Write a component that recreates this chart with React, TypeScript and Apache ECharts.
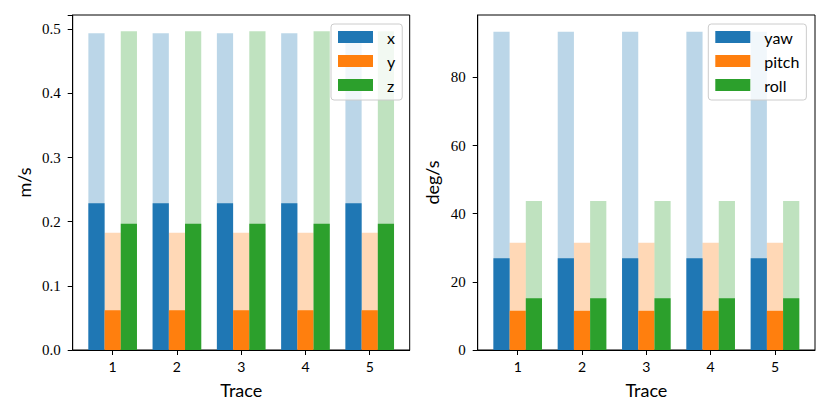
import { useEffect, useRef } from "react";
import * as echarts from "echarts";

// categories
const traces = [1, 2, 3, 4, 5];

// left panel (m/s): light = peak, dark = mean
const xPeak = [0.494, 0.494, 0.494, 0.494, 0.494];
const xMean = [0.229, 0.229, 0.229, 0.229, 0.229];
const yPeak = [0.183, 0.183, 0.183, 0.183, 0.183];
const yMean = [0.062, 0.062, 0.062, 0.062, 0.062];
const zPeak = [0.497, 0.497, 0.497, 0.497, 0.497];
const zMean = [0.197, 0.197, 0.197, 0.197, 0.197];

// right panel (deg/s)
const yawPeak = [93.4, 93.4, 93.4, 93.4, 93.4];
const yawMean = [26.9, 26.9, 26.9, 26.9, 26.9];
const pitchPeak = [31.5, 31.5, 31.5, 31.5, 31.5];
const pitchMean = [11.5, 11.5, 11.5, 11.5, 11.5];
const rollPeak = [43.7, 43.7, 43.7, 43.7, 43.7];
const rollMean = [15.2, 15.2, 15.2, 15.2, 15.2];

// tick labels
const linTicks = [0, 0.1, 0.2, 0.3, 0.4, 0.5];
const angTicks = [0, 20, 40, 60, 80];
const traceTicks = [1, 2, 3, 4, 5];

const linNames = ["x", "y", "z"];
const angNames = ["yaw", "pitch", "roll"];
const colors = ["#1f77b4", "#ff7f0e", "#2ca02c"];

const SERIF = "Liberation Serif";
const SANS = "Lato";

export default function App() {
  const ref = useRef<HTMLDivElement>(null);
  useEffect(() => {
    document.body.style.margin = "0";
    const chart = echarts.init(ref.current!, null, { renderer: "svg" });

    const lin = [
      [xPeak, xMean],
      [yPeak, yMean],
      [zPeak, zMean],
    ];
    const ang = [
      [yawPeak, yawMean],
      [pitchPeak, pitchMean],
      [rollPeak, rollMean],
    ];

    const series: any[] = [];
    const addPanel = (g: number, names: string[], sets: number[][][]) => {
      sets.forEach(([peak], k) => {
        series.push({
          type: "bar",
          name: names[k] + " peak",
          xAxisIndex: 2 * g + 1,
          yAxisIndex: g,
          data: traces.map((t, i) => [t, peak[i]]),
          barWidth: 16.2,
          barGap: "0%",
          itemStyle: { color: colors[k], opacity: 0.3 },
          z: 2,
          silent: true,
        });
      });
      sets.forEach(([, mean], k) => {
        series.push({
          type: "bar",
          name: names[k],
          xAxisIndex: 2 * g,
          yAxisIndex: g,
          data: traces.map((t, i) => [t, mean[i]]),
          barWidth: 16.2,
          barGap: "0%",
          itemStyle: { color: colors[k] },
          z: 3,
          silent: true,
        });
      });
    };
    addPanel(0, linNames, lin);
    addPanel(1, angNames, ang);

    const axisText = { color: "#000", fontFamily: SANS, fontSize: 18 };
    const mkX = (g: number, visible: boolean) => ({
      type: "value",
      gridIndex: g,
      min: 0.378,
      max: 5.622,
      show: visible,
      name: "Trace",
      nameLocation: "middle",
      nameGap: 31,
      nameTextStyle: axisText,
      axisLine: { show: true, onZero: false, lineStyle: { color: "#000", width: 1 } },
      axisTick: { show: true, length: 5, lineStyle: { color: "#000" }, customValues: traceTicks },
      axisLabel: {
        customValues: traceTicks,
        margin: 9,
        textStyle: { color: "#000", fontFamily: SANS, fontSize: 14 },
        color: "#000",
        fontFamily: SANS,
        fontSize: 14,
      },
      splitLine: { show: false },
    });

    const mkY = (g: number, name: string, max: number, ticks: number[], gap: number, fmt: (v: number) => string, useCustom: boolean) => ({
      type: "value",
      gridIndex: g,
      min: 0,
      max,
      interval: useCustom ? undefined : ticks[1],
      name,
      nameLocation: "middle",
      nameGap: gap,
      nameTextStyle: axisText,
      axisLine: { show: true, lineStyle: { color: "#000" } },
      axisTick: { show: true, length: 5, lineStyle: { color: "#000" }, customValues: useCustom ? ticks : undefined },
      axisLabel: {
        customValues: useCustom ? ticks : undefined,
        formatter: fmt,
        margin: 12,
        color: "#000",
        fontFamily: SERIF,
        fontSize: 15,
      },
      splitLine: { show: false },
    });

    const legendBase = {
      orient: "vertical",
      top: 24,
      icon: "rect",
      itemWidth: 35,
      itemHeight: 12,
      itemGap: 8,
      padding: [5, 7, 7, 7],
      backgroundColor: "rgba(255,255,255,0.8)",
      borderColor: "#cccccc",
      borderWidth: 1,
      borderRadius: 3,
      textStyle: { color: "#000", fontFamily: SANS, fontSize: 16, padding: [0, 0, 0, 9], lineHeight: 16 },
      selectedMode: false,
    };

    chart.setOption({
      animation: false,
      grid: [
        { left: 72.7, top: 15, width: 337, height: 335, show: true, borderColor: "#000", borderWidth: 1, backgroundColor: "transparent" },
        { left: 477.7, top: 15, width: 337.3, height: 335, show: true, borderColor: "#000", borderWidth: 1, backgroundColor: "transparent" },
      ],
      xAxis: [mkX(0, true), mkX(0, false), mkX(1, true), mkX(1, false)],
      yAxis: [
        mkY(0, "m/s", 0.5224, linTicks, 40, (v: number) => (Math.abs(v * 10 - Math.round(v * 10)) < 1e-6 ? v.toFixed(1) : ""), false),
        mkY(1, "deg/s", 98.3, angTicks, 37, (v: number) => String(v), true),
      ],
      legend: [
        { ...legendBase, left: 331, data: linNames },
        { ...legendBase, left: 708.3, data: angNames },
      ],
      series,
    });
    return () => chart.dispose();
  }, []);
  return <div ref={ref} style={{ width: 830, height: 415 }} />;
}
